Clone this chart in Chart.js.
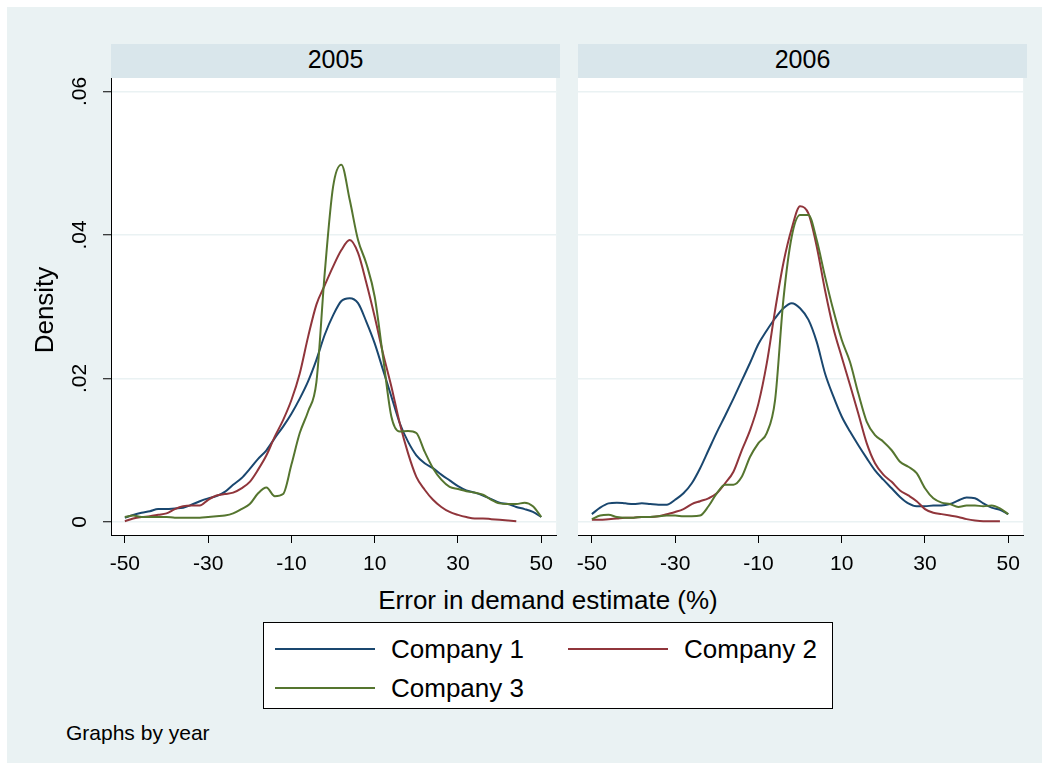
<!DOCTYPE html>
<html>
<head>
<meta charset="utf-8">
<script src="https://cdn.jsdelivr.net/npm/chart.js@4.4.1/dist/chart.umd.min.js"></script>
<style>
  body { margin: 0; background: #fff; font-family: "Liberation Sans", Arial, sans-serif; color: #000; }
  #page { position: relative; width: 1049px; height: 770px; overflow: hidden; }
  #bg { position: absolute; left: 7px; top: 7px; width: 1035px; height: 756px; background: #eaf2f3; }
  .strip { position: absolute; top: 44px; height: 34px; width: 449px; background: #d9e6eb;
           font-size: 25px; line-height: 31px; text-align: center; }
  canvas { position: absolute; }
  .txt { position: absolute; white-space: nowrap; }
  #legend { position: absolute; left: 263px; top: 622px; width: 568px; height: 85px;
            background: #fff; border: 1px solid #000; }
  .swatch { position: absolute; width: 100px; height: 2px; }
  .ltxt { position: absolute; font-size: 26px; line-height: 30px; white-space: nowrap; }
</style>
</head>
<body>
<div id="page">
  <div id="bg"></div>
  <div class="strip" style="left:111px">2005</div>
  <div class="strip" style="left:578px">2006</div>
  <canvas id="panel2005" width="562" height="536" style="left:0;top:44px"></canvas>
  <canvas id="panel2006" width="469" height="536" style="left:560px;top:44px"></canvas>
  <div class="txt" style="left:-56px;top:295px;width:200px;height:30px;line-height:30px;font-size:26px;text-align:center;transform:rotate(-90deg)">Density</div>
  <div class="txt" style="left:348px;top:585px;width:400px;line-height:30px;font-size:26px;text-align:center">Error in demand estimate (%)</div>
  <div id="legend">
    <div class="swatch" style="left:11px;top:25px;background:#1a476f"></div>
    <div class="ltxt" style="left:127px;top:11px">Company 1</div>
    <div class="swatch" style="left:304px;top:25px;background:#90353b"></div>
    <div class="ltxt" style="left:420px;top:11px">Company 2</div>
    <div class="swatch" style="left:11px;top:64px;background:#55752f"></div>
    <div class="ltxt" style="left:127px;top:50px">Company 3</div>
  </div>
  <div class="txt" style="left:66px;top:721px;font-size:21px;line-height:24px">Graphs by year</div>
</div>
<script>
// kernel density estimates
const companies = ['Company 1', 'Company 2', 'Company 3'];
const lineColors = ['#1a476f', '#90353b', '#55752f'];

const errorPct = [-50, -48, -46, -44, -42, -40, -38, -36, -34, -32,
                  -30, -28, -26, -24, -22, -20, -18, -16, -14, -12,
                  -10, -8, -6, -4, -2, 0, 2, 4, 6, 8,
                  10, 12, 14, 16, 18, 20, 22, 24, 26, 28,
                  30, 32, 34, 36, 38, 40, 42, 44, 46, 48, 50];

const company1_2005 = [0.0006, 0.0010, 0.0013, 0.0015, 0.0018, 0.0018, 0.0019, 0.0020, 0.0024, 0.0029,
                       0.0033, 0.0036, 0.0042, 0.0052, 0.0061, 0.0074, 0.0088, 0.0100, 0.0117, 0.0133,
                       0.0151, 0.0172, 0.0196, 0.0226, 0.0261, 0.0288, 0.0308, 0.0312, 0.0305, 0.0279,
                       0.0249, 0.0212, 0.0175, 0.0138, 0.0112, 0.0093, 0.0082, 0.0075, 0.0066, 0.0058,
                       0.0050, 0.0044, 0.0041, 0.0037, 0.0032, 0.0027, 0.0025, 0.0021, 0.0018, 0.0014, 0.0007];
const company2_2005 = [0.0001, 0.0005, 0.0007, 0.0008, 0.0010, 0.0012, 0.0018, 0.0022, 0.0023, 0.0023,
                       0.0031, 0.0037, 0.0039, 0.0041, 0.0047, 0.0056, 0.0073, 0.0093, 0.0119, 0.0142,
                       0.0170, 0.0207, 0.0258, 0.0303, 0.0330, 0.0356, 0.0379, 0.0393, 0.0375, 0.0333,
                       0.0286, 0.0235, 0.0189, 0.0138, 0.0096, 0.0063, 0.0045, 0.0031, 0.0021, 0.0014,
                       0.0010, 0.0007, 0.0005, 0.0005, 0.0004, 0.0003, 0.0002, 0.0001, null, null, null];
const company3_2005 = [0.0007, 0.0009, 0.0007, 0.0007, 0.0007, 0.0007, 0.0006, 0.0006, 0.0006, 0.0006,
                       0.0007, 0.0008, 0.0009, 0.0012, 0.0018, 0.0025, 0.0040, 0.0048, 0.0036, 0.0039,
                       0.0080, 0.0124, 0.0154, 0.0195, 0.0347, 0.0467, 0.0498, 0.0449, 0.0393, 0.0360,
                       0.0314, 0.0230, 0.0147, 0.0126, 0.0127, 0.0124, 0.0098, 0.0075, 0.0059, 0.0049,
                       0.0046, 0.0043, 0.0041, 0.0038, 0.0031, 0.0026, 0.0025, 0.0025, 0.0027, 0.0022, 0.0007];

const company1_2006 = [0.0011, 0.0020, 0.0026, 0.0027, 0.0026, 0.0025, 0.0026, 0.0025, 0.0024, 0.0024,
                       0.0031, 0.0040, 0.0054, 0.0075, 0.0100, 0.0125, 0.0148, 0.0172, 0.0197, 0.0222,
                       0.0248, 0.0267, 0.0284, 0.0298, 0.0305, 0.0298, 0.0282, 0.0251, 0.0207, 0.0175,
                       0.0147, 0.0126, 0.0107, 0.0089, 0.0072, 0.0059, 0.0047, 0.0035, 0.0026, 0.0022,
                       0.0022, 0.0023, 0.0023, 0.0025, 0.0030, 0.0034, 0.0033, 0.0026, 0.0020, 0.0017, 0.0011];
const company2_2006 = [0.0003, 0.0003, 0.0004, 0.0005, 0.0006, 0.0006, 0.0007, 0.0007, 0.0008, 0.0011,
                       0.0014, 0.0018, 0.0025, 0.0029, 0.0033, 0.0040, 0.0054, 0.0070, 0.0100, 0.0128,
                       0.0165, 0.0221, 0.0295, 0.0361, 0.0409, 0.0440, 0.0430, 0.0384, 0.0323, 0.0270,
                       0.0230, 0.0191, 0.0151, 0.0110, 0.0082, 0.0066, 0.0056, 0.0044, 0.0037, 0.0029,
                       0.0018, 0.0013, 0.0011, 0.0009, 0.0007, 0.0004, 0.0002, 0.0001, 0.0001, 0.0001, null];
const company3_2006 = [0.0004, 0.0009, 0.0010, 0.0007, 0.0006, 0.0006, 0.0007, 0.0007, 0.0008, 0.0009,
                       0.0009, 0.0008, 0.0008, 0.0009, 0.0022, 0.0040, 0.0052, 0.0052, 0.0063, 0.0091,
                       0.0110, 0.0124, 0.0170, 0.0310, 0.0398, 0.0428, 0.0428, 0.0393, 0.0342, 0.0295,
                       0.0254, 0.0223, 0.0179, 0.0140, 0.0121, 0.0112, 0.0100, 0.0084, 0.0077, 0.0068,
                       0.0047, 0.0033, 0.0027, 0.0025, 0.0021, 0.0023, 0.0023, 0.0022, 0.0023, 0.0019, 0.0011];

const xTickValues = [-50, -30, -10, 10, 30, 50];
const yTickValues = [0, 0.02, 0.04, 0.06];
const yTickLabels = ['0', '.02', '.04', '.06'];

Chart.defaults.font.family = '"Liberation Sans", Arial, sans-serif';
Chart.defaults.color = '#000';

// white plot region
const plotBg = {
  id: 'plotBg',
  beforeDraw(chart) {
    const a = chart.chartArea;
    const ctx = chart.ctx;
    ctx.save();
    ctx.fillStyle = '#fff';
    ctx.fillRect(a.left, a.top, a.right - a.left, a.bottom - a.top);
    ctx.restore();
  }
};

function makePanel(id, series, showY) {
  const datasets = series.map(function (vals, i) {
    return {
      label: companies[i],
      data: errorPct.map(function (x, j) { return { x: x, y: vals[j] }; }),
      borderColor: lineColors[i],
      borderWidth: 2,
      pointRadius: 0,
      cubicInterpolationMode: 'monotone',
      fill: false,
      order: 3 - i
    };
  });

  new Chart(document.getElementById(id), {
    type: 'line',
    data: { datasets: datasets },
    options: {
      responsive: false,
      animation: false,
      devicePixelRatio: 1,
      layout: { padding: { top: 34, left: showY ? 0 : 18, right: 2, bottom: 0 } },
      plugins: { legend: { display: false }, tooltip: { enabled: false } },
      scales: {
        x: {
          type: 'linear',
          min: -53.33,
          max: 53.57,
          afterBuildTicks: function (s) { s.ticks = xTickValues.map(function (v) { return { value: v }; }); },
          afterFit: function (s) { s.height = 45; },
          grid: { drawOnChartArea: false, drawTicks: true, tickLength: 8, tickColor: '#000', tickWidth: 1 },
          border: { display: true, color: '#000', width: 1 },
          ticks: { color: '#000', font: { size: 21 }, padding: 9, maxRotation: 0, autoSkip: false }
        },
        y: {
          type: 'linear',
          min: -0.00181,
          max: 0.06188,
          afterBuildTicks: function (s) { s.ticks = yTickValues.map(function (v) { return { value: v }; }); },
          afterFit: function (s) { s.width = showY ? 111 : 0; },
          grid: { color: '#eaf2f3', lineWidth: 1.5, drawTicks: showY, tickLength: 8, tickColor: '#000', tickWidth: 1 },
          border: { display: showY, color: '#000', width: 1 },
          ticks: {
            display: showY, color: '#000', font: { size: 21 },
            minRotation: 90, maxRotation: 90, crossAlign: 'center', padding: 8,
            callback: function (v, i) { return yTickLabels[i]; }
          }
        }
      }
    },
    plugins: [plotBg]
  });
}

makePanel('panel2005', [company1_2005, company2_2005, company3_2005], true);
makePanel('panel2006', [company1_2006, company2_2006, company3_2006], false);
</script>
</body>
</html>
